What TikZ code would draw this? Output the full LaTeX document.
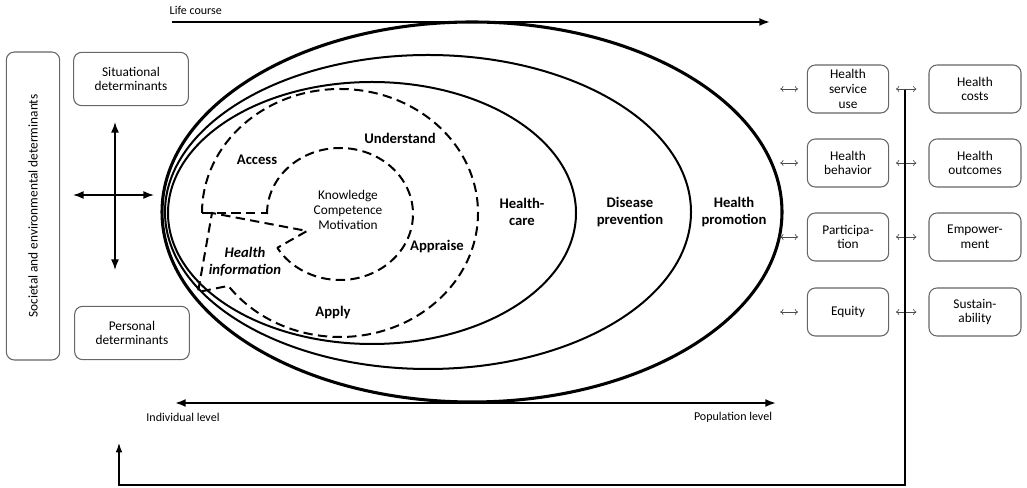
\documentclass[tikz,border=0pt]{standalone}
\usepackage{fontspec}
\setmainfont{Carlito}
\usetikzlibrary{arrows.meta,positioning}

\begin{document}
\begin{tikzpicture}
    [
      x=0.75pt, y=0.75pt,
      every node/.style={font=\fontsize{10}{11}\selectfont, align=center},
      box/.style={draw=black!60, line width=0.8pt, rounded corners=6pt, inner sep=1pt},
      leftbox/.style={box, minimum width=86pt, minimum height=40pt},
      outbox/.style={box, minimum width=61pt, minimum height=36pt},
      effbox/.style={box, minimum width=69pt, minimum height=36pt},
      area/.style={font=\fontsize{11}{13}\selectfont\bfseries},
      level/.style={font=\fontsize{9}{10}\selectfont},
      ring/.style={line width=1.5pt},
      outerring/.style={line width=2.3pt},
      dashring/.style={line width=1.5pt, dash pattern=on 7pt off 4pt},
      axis/.style={-{Latex[length=8pt,width=6pt]}, line width=1.5pt},
      twoway/.style={{Latex[length=8pt,width=6pt]}-{Latex[length=8pt,width=6pt]}, line width=1.1pt},
      small/.style={{To[length=2.5pt,width=4.5pt]}-{To[length=2.5pt,width=4.5pt]}, line width=0.5pt, black!70},
      feedback/.style={-{Latex[length=7pt,width=5pt]}, line width=0.9pt},
    ]

    \useasboundingbox (0,0) rectangle (1027,488);

    % determinants
    \node (societal) [box, rotate=90, minimum width=231pt, minimum height=40pt] at (33,282) {Societal and environmental determinants};
    \node (situational) [leftbox] at (131,409) {Situational\\determinants};
    \node (personal) [leftbox] at (132,155) {Personal\\determinants};

    \coordinate (cross-up) at (115,366);
    \coordinate (cross-down) at (115,218);
    \coordinate (cross-left) at (73,293);
    \coordinate (cross-right) at (154,293);
    \path
    (cross-up) edge [twoway] (cross-down)
    (cross-left) edge [twoway] (cross-right)
    ;

    % settings
    \draw [outerring] (472,276) ellipse [x radius=310, y radius=190];
    \draw [ring] (428,276) ellipse [x radius=263, y radius=157];
    \draw [ring] (372,275) ellipse [x radius=204, y radius=131];

    % health literacy
    \draw [dashring] (202,275) arc [start angle=180, end angle=-144, x radius=138, y radius=124]
      -- (198,196) -- (212,275) -- (307,257) -- (277,240);
    \draw [dashring] (267,274) arc [start angle=180, end angle=-149, x radius=73, y radius=66];
    \draw [dashring] (202,275) -- (267,275);

    \node (access) [area] at (257,328) {Access};
    \node (understand) [area] at (400,350) {Understand};
    \node (knowledge) at (348,278) {Knowledge\\Competence\\Motivation};
    \node (appraise) [area] at (437,241) {Appraise};
    \node (healthinfo) [area, font=\fontsize{11}{13}\selectfont\bfseries\itshape] at (245,226) {Health\\information};
    \node (apply) [area] at (333,175) {Apply};

    \node (healthcare) [area] at (522,276) {Health-\\care};
    \node (prevention) [area] at (630,276) {Disease\\prevention};
    \node (promotion) [area] at (734,276) {Health\\promotion};

    % axes
    \coordinate (life-start) at (172,466);
    \coordinate (life-end) at (770,466);
    \node (life-label) [level, anchor=west] at (165,478) {Life course};
    \draw [axis] (life-start) -- (life-end);

    \coordinate (indiv) at (175,85);
    \coordinate (popul) at (776,85);
    \draw [twoway, line width=1.5pt] (indiv) -- (popul);
    \node (indiv-label) [level] at (183,71) {Individual level};
    \node (popul-label) [level] at (733,71) {Population level};

    % outcomes
    \node (service) [outbox] at (848,399) {Health\\service\\use};
    \node (behavior) [outbox] at (848,325) {Health\\behavior};
    \node (participation) [outbox] at (848,251) {Participa-\\tion};
    \node (equity) [outbox] at (848,176) {Equity};
    \node (costs) [effbox] at (975,399) {Health\\costs};
    \node (outcomes) [effbox] at (975,325) {Health\\outcomes};
    \node (empowerment) [effbox] at (975,251) {Empower-\\ment};
    \node (sustain) [effbox] at (975,176) {Sustain-\\ability};

    \foreach \n in {service,behavior,participation,equity}
      \draw [small] ([xshift=-20pt]\n.west) -- ([xshift=-6.5pt]\n.west);
    \foreach \a/\b in {service/costs,behavior/outcomes,participation/empowerment,equity/sustain}
      \path (\a.east) edge [small, shorten <=5pt, shorten >=9pt] (\b.west);

    \coordinate (fb-top) at (905,398);
    \coordinate (fb-corner) at (905,3);
    \coordinate (fb-left) at (119,3);
    \coordinate (fb-tip) at (119,45);
    \draw [feedback] (fb-top) -- (fb-corner) -- (fb-left) -- (fb-tip);

  \end{tikzpicture}
\end{document}
